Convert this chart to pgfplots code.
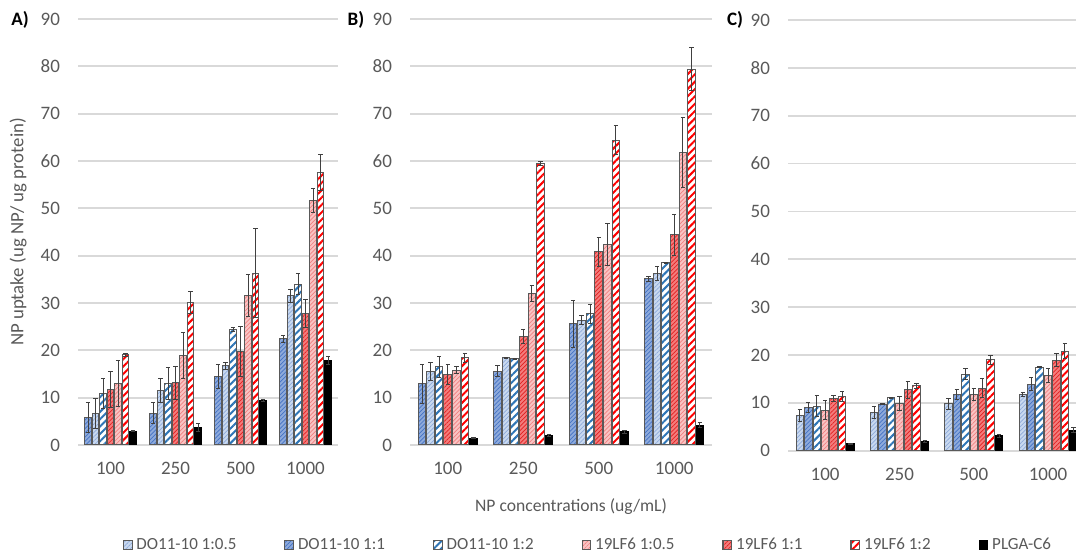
\documentclass[border=0pt]{standalone}
\usepackage{fontspec}
\setmainfont{Carlito}
\usepackage{pgfplots}
\usepackage{pgfplotstable}
\pgfplotsset{compat=1.18}
\usetikzlibrary{patterns.meta}

\definecolor{tickgray}{HTML}{595959}
\definecolor{gridgray}{HTML}{D9D9D9}
\definecolor{bord}{HTML}{595959}
\definecolor{errc}{HTML}{404040}
\definecolor{cAfill}{HTML}{C9D9EF}
\definecolor{cAline}{HTML}{8EAADB}
\definecolor{cBfill}{HTML}{8EAADB}
\definecolor{cBline}{HTML}{4472C4}
\definecolor{cCline}{HTML}{2E75B6}
\definecolor{cDfill}{HTML}{F9C4C4}
\definecolor{cDline}{HTML}{F08080}
\definecolor{cEfill}{HTML}{F47C7C}
\definecolor{cEline}{HTML}{E02020}
\definecolor{cFline}{HTML}{FF0000}

% panel A: positions p1..p7 with value and error
\pgfplotstableread{
x p1 e1 p2 e2 p3 e3 p4 e4 p5 e5 p6 e6 p7 e7
0 5.8 3.1 6.6 3.2 10.9 3.1 11.8 3.8 13.0 4.8 19.1 0.3 2.9 0.1
1 6.7 2.2 11.5 2.5 13.0 3.4 13.1 3.5 18.9 4.9 30.1 2.3 3.7 0.8
2 14.5 2.5 16.7 0.7 24.4 0.5 19.8 5.3 31.6 4.5 36.3 9.4 9.4 0.3
3 22.4 0.7 31.5 1.3 34.0 2.2 27.8 3.0 51.6 2.5 57.5 3.8 17.8 0.8
}\tabA
\pgfplotstableread{
x p1 e1 p2 e2 p3 e3 p4 e4 p5 e5 p6 e6 p7 e7
0 12.9 4.2 15.5 1.9 16.5 2.2 14.9 2.1 15.8 0.8 18.4 0.9 1.4 0.1
1 15.6 1.2 18.4 0.1 18.2 0.1 22.9 1.5 32.0 1.6 59.4 0.4 2.1 0.2
2 25.6 5.0 26.4 1.0 27.7 2.0 40.8 3.0 42.3 4.4 64.4 3.1 2.8 0.3
3 35.1 0.6 36.3 1.5 38.5 0.1 44.4 4.4 61.8 7.4 79.4 4.6 4.2 0.6
}\tabB
\pgfplotstableread{
x p1 e1 p2 e2 p3 e3 p4 e4 p5 e5 p6 e6 p7 e7
0 7.3 1.3 9.0 1.1 9.3 2.2 8.5 2.0 10.9 0.6 11.3 1.0 1.4 0.1
1 8.0 1.2 9.7 0.1 11.1 0.1 9.8 1.5 12.7 1.7 13.6 0.5 1.9 0.2
2 9.8 1.1 11.7 1.0 16.0 1.1 11.7 1.2 13.1 1.9 19.0 0.9 3.1 0.3
3 11.8 0.4 13.9 1.3 17.4 0.1 15.7 1.4 18.9 1.4 20.8 1.5 4.3 0.6
}\tabC

\pgfplotsset{
  sA/.style={draw=bord, line width=0.5pt, preaction={fill=cAfill}, pattern={Lines[angle=45,distance=1.5pt,line width=0.35pt]}, pattern color=cAline},
  sB/.style={draw=bord, line width=0.5pt, preaction={fill=cBfill}, pattern={Lines[angle=45,distance=1.5pt,line width=0.35pt]}, pattern color=cBline},
  sC/.style={draw=bord, line width=0.5pt, preaction={fill=white}, pattern={Lines[angle=45,distance=2.6pt,line width=1pt]}, pattern color=cCline},
  sD/.style={draw=bord, line width=0.5pt, preaction={fill=cDfill}, pattern={Lines[angle=45,distance=1.5pt,line width=0.35pt]}, pattern color=cDline},
  sE/.style={draw=bord, line width=0.5pt, preaction={fill=cEfill}, pattern={Lines[angle=45,distance=1.5pt,line width=0.35pt]}, pattern color=cEline},
  sF/.style={draw=bord, line width=0.5pt, preaction={fill=white}, pattern={Lines[angle=45,distance=2.6pt,line width=1pt]}, pattern color=cFline},
  sG/.style={draw=black, line width=0.5pt, fill=black},
  panel/.style={
    scale only axis,
    anchor=south west,
    ybar=0.5pt, bar width=0.1,
    ymin=0, ymax=90, ytick={0,10,...,90},
    xmin=-0.5, xmax=3.5,
    xtick={0,1,2,3}, xticklabels={100,250,500,1000},
    axis line style={draw=none},
    major tick length=0pt,
    ymajorgrids, grid style={draw=gridgray, line width=0.9pt},
    tick label style={font=\fontsize{9.5}{11}\selectfont, text=tickgray},
    /pgf/number format/assume math mode=true,
    yticklabel style={xshift=-5.5pt},
    xticklabel style={yshift=-5pt},
    error bars/y dir=both, error bars/y explicit,
    error bars/error bar style={draw=errc, line width=0.5pt, solid},
    error bars/error mark options={rotate=90, draw=errc, line width=0.5pt, mark size=1.1pt, solid},
  },
}

\begin{document}
\begin{tikzpicture}
\useasboundingbox (0,0) rectangle (538pt,278pt);

% Panel A
\begin{axis}[panel, at={(39pt,55.5pt)}, width=130pt, height=213pt]
\addplot[sB] table[x=x,y=p1,y error=e1]{\tabA};
\addplot[sA] table[x=x,y=p2,y error=e2]{\tabA};
\addplot[sC] table[x=x,y=p3,y error=e3]{\tabA};
\addplot[sE] table[x=x,y=p4,y error=e4]{\tabA};
\addplot[sD] table[x=x,y=p5,y error=e5]{\tabA};
\addplot[sF] table[x=x,y=p6,y error=e6]{\tabA};
\addplot[sG] table[x=x,y=p7,y error=e7]{\tabA};
\end{axis}

% Panel B
\begin{axis}[panel, at={(205pt,55.5pt)}, width=151pt, height=213pt]
\addplot[sB] table[x=x,y=p1,y error=e1]{\tabB};
\addplot[sA] table[x=x,y=p2,y error=e2]{\tabB};
\addplot[sC] table[x=x,y=p3,y error=e3]{\tabB};
\addplot[sE] table[x=x,y=p4,y error=e4]{\tabB};
\addplot[sD] table[x=x,y=p5,y error=e5]{\tabB};
\addplot[sF] table[x=x,y=p6,y error=e6]{\tabB};
\addplot[sG] table[x=x,y=p7,y error=e7]{\tabB};
\end{axis}

% Panel C (with legend)
\begin{axis}[panel, at={(394pt,52.65pt)}, width=144pt, height=215.35pt, xmax=3.376,
  legend columns=7,
  legend style={at={(-0.691,-0.219)}, anchor=center, draw=none, fill=none,
    font=\fontsize{8.5}{10}\selectfont, text=tickgray,
    /tikz/every even column/.append style={column sep=22pt}},
  legend image code/.code={\draw[#1, line width=0.4pt] (0pt,-2.2pt) rectangle (4.4pt,2.2pt);},
]
\addplot[sA] table[x=x,y=p1,y error=e1]{\tabC};
\addplot[sB] table[x=x,y=p2,y error=e2]{\tabC};
\addplot[sC] table[x=x,y=p3,y error=e3]{\tabC};
\addplot[sD] table[x=x,y=p4,y error=e4]{\tabC};
\addplot[sE] table[x=x,y=p5,y error=e5]{\tabC};
\addplot[sF] table[x=x,y=p6,y error=e6]{\tabC};
\addplot[sG] table[x=x,y=p7,y error=e7]{\tabC};
\legend{DO11-10 1:0.5, DO11-10 1:1, DO11-10 1:2, 19LF6 1:0.5, 19LF6 1:1, 19LF6 1:2, PLGA-C6}
\end{axis}

% labels
\node[font=\fontsize{9.5}{11}\selectfont\bfseries] at (10pt,268pt) {A)};
\node[font=\fontsize{9.5}{11}\selectfont\bfseries] at (178pt,268pt) {B)};
\node[font=\fontsize{9.5}{11}\selectfont\bfseries] at (367.5pt,268pt) {C)};
\node[rotate=90, font=\fontsize{9.4}{11}\selectfont, text=tickgray] at (9pt,162pt) {NP uptake (ug NP/ ug protein)};
\node[font=\fontsize{8.8}{10}\selectfont, text=tickgray] at (285.5pt,24.5pt) {NP concentrations (ug/mL)};
\end{tikzpicture}
\end{document}
